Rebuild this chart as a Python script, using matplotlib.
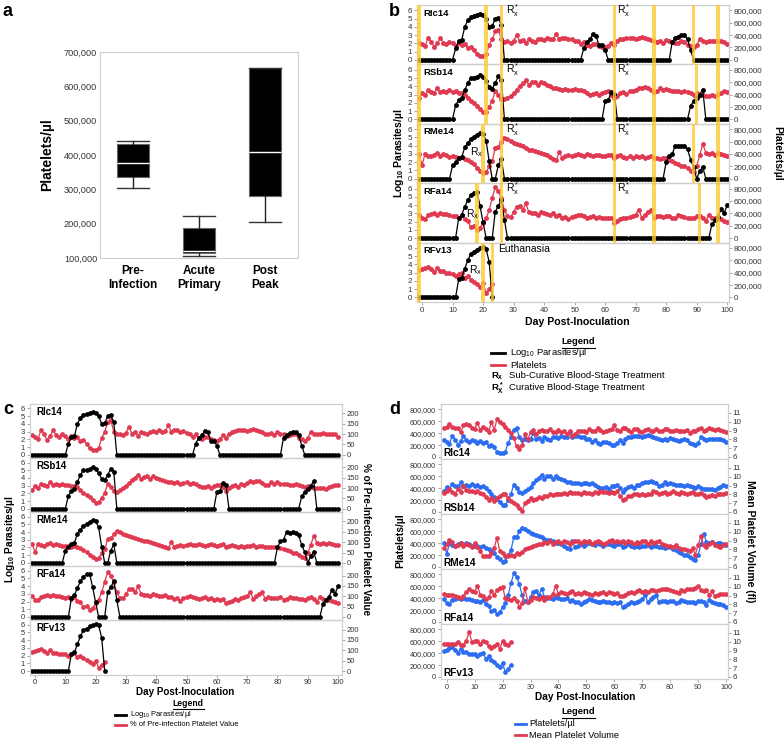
import matplotlib
matplotlib.use('Agg')
import matplotlib.pyplot as plt
from matplotlib.ticker import FuncFormatter
from matplotlib.lines import Line2D

plt.rcParams['font.family'] = ['Liberation Sans', 'DejaVu Sans']
plt.rcParams['mathtext.fontset'] = 'custom'
plt.rcParams['mathtext.rm'] = 'Liberation Sans'
plt.rcParams['mathtext.it'] = 'Liberation Sans:italic'
plt.rcParams['mathtext.bf'] = 'Liberation Sans:bold'

# ---------------- data ----------------
# panel a (box plot of platelets/µl)
box_labels = ['Pre-\nInfection', 'Acute\nPrimary', 'Post\nPeak']
box_whislo = [305000, 107000, 205000]
box_q1 = [335000, 114000, 282000]
box_med = [378000, 120000, 410000]
box_q3 = [432000, 187000, 652000]
box_whishi = [440000, 222000, 652000]

subjects = ['RIc14', 'RSb14', 'RMe14', 'RFa14', 'RFv13']
days_full = list(range(-1, 101))
days_rfv13 = list(range(-1, 24))

# log10 parasites/µl per day
para_RIc14 = ([0] * 12 + [1.4, 2.3, 2.4, 4.0, 4.8, 5.2, 5.3, 5.4, 5.5, 5.4, 5.0, 4.0, 4.1, 5.0, 5.1, 4.2]
              + [0] * 26 + [1.4, 2.2, 2.5, 3.1, 2.9, 1.8, 1.8, 1.2] + [0] * 21
              + [2.2, 2.6, 2.8, 3.0, 3.0, 2.5, 1.2] + [0] * 12)
para_RSb14 = ([0] * 12 + [1.7, 2.3, 2.6, 3.5, 4.4, 5.0, 5.0, 5.1, 5.4, 5.1, 4.6, 3.9, 3.7, 4.4, 5.2, 4.8]
              + [0] * 33 + [2.2, 2.3, 3.3, 3.1] + [0] * 24 + [1.6, 2.2, 2.6, 3.0, 3.6] + [0] * 8)
para_RMe14 = ([0] * 11 + [1.6, 2.0, 2.5, 2.6, 3.8, 4.3, 4.8, 5.1, 5.3, 5.5, 5.4, 4.6, 2.1]
              + [0, 0, 1.6, 2.4] + [0] * 53 + [2.0, 2.8, 3.0, 4.0, 3.9, 4.0, 3.9, 3.6, 2.3, 1.4]
              + [0, 0.9, 1.4] + [0] * 8)
para_RFa14 = ([0] * 13 + [2.4, 2.8, 3.8, 4.6, 5.2, 5.5, 5.6, 3.9, 1.9] + [0] * 3
              + [3.2, 3.9, 4.6, 2.2] + [0] * 67 + [1.7, 2.2, 2.6, 3.5, 3.0, 4.0])
para_RFv13 = [0] * 13 + [2.2, 2.4, 3.5, 4.5, 5.3, 5.5, 5.8, 6.0, 6.1, 5.9, 4.3, 0]

# platelets (thousands /µl) per day
plt_k_RIc14 = [280, 260, 220, 360, 290, 210, 270, 350, 280, 250, 290, 270,
               230, 270, 240, 250, 190, 210, 160, 90, 70, 70, 90,
               240, 330, 460, 490, 330, 290, 300, 280, 310,
               400, 300, 320, 270, 330, 310, 290, 330, 340, 320,
               350, 330, 340, 420, 330, 360, 350, 330, 340, 310,
               300, 260, 290, 240, 220, 260, 250, 230, 210, 200,
               230, 280, 240, 300, 330, 340, 360, 350, 360, 340,
               350, 370, 360, 340, 320, 300, 290, 310, 280, 320,
               300, 290, 270, 280, 300, 290, 240, 220, 200, 240,
               330, 300, 290, 300, 310, 300, 300, 300, 290, 250]
plt_k_RSb14 = [350, 420, 390, 470, 440, 430, 500, 440, 460, 440, 470, 440,
               450, 420, 430, 400, 350, 300, 260, 220, 160, 110, 120,
               200, 300, 460, 400, 330, 320, 350, 380, 420,
               480, 540, 580, 630, 560, 600, 610, 560, 610, 580,
               560, 540, 510, 500, 490, 480, 490, 470, 480, 490,
               470, 480, 460, 420, 400, 410, 420, 390, 430, 440,
               450, 400, 340, 380, 420, 440, 410, 460, 450, 480,
               510, 500, 520, 510, 480, 440, 450, 500, 470, 490,
               470, 460, 460, 450, 440, 460, 440, 420, 400, 430,
               400, 390, 380, 380, 390, 370, 410, 420, 450, 440]
plt_k_RMe14 = [400, 220, 400, 370, 360, 390, 410, 370, 400, 380, 350, 360,
               350, 330, 350, 320, 300, 270, 230, 170, 130, 90, 100,
               200, 280, 500, 510, 600, 660, 640, 610, 580,
               560, 540, 520, 500, 470, 460, 450, 430, 410, 400,
               380, 350, 320, 300, 430, 330, 360, 380, 360, 380,
               400, 380, 370, 400, 380, 360, 380, 390, 370, 360,
               380, 390, 340, 360, 380, 350, 330, 360, 340, 360,
               350, 370, 340, 350, 360, 330, 340, 320, 340, 330,
               300, 280, 260, 240, 200, 210, 170, 130, 110, 200,
               380, 560, 420, 400, 420, 390, 410, 400, 380, 370]
plt_k_RFa14 = [380, 320, 310, 370, 390, 400, 380, 410, 390, 390, 370, 350,
               360, 330, 370, 300, 270, 180, 200, 130, 160, 250, 320,
               450, 650, 820, 760, 640, 450, 350, 340, 420,
               510, 520, 450, 560, 420, 410, 400, 380, 420, 400,
               390, 380, 400, 360, 370, 330, 340, 300, 340, 360,
               380, 370, 350, 330, 340, 360, 330, 340, 320, 330,
               320, 330, 250, 270, 300, 330, 320, 340, 360, 380,
               460, 330, 380, 420, 450, 330, 360, 350, 340, 350,
               360, 320, 330, 370, 350, 340, 330, 330, 320, 350,
               360, 330, 280, 370, 330, 320, 310, 300, 280, 260]
plt_k_RFv13 = [440, 460, 480, 500, 460, 410, 470, 420, 420, 390, 390, 380,
               350, 380, 400, 310, 350, 290, 250, 210, 170, 230, 80, 130, 210]

# pre-infection platelet reference values (per µl) used for panel c
baseline_RIc14 = 295000
baseline_RSb14 = 385000
baseline_RMe14 = 430000
baseline_RFa14 = 380000
baseline_RFv13 = 470000

# mean platelet volume (fl)
mpv_RIc14 = [9.3, 9.4, 9.7, 9.4, 9.3, 9.3, 8.8, 9.6, 9.7, 9.6, 9.3, 9.2,
             9.9, 9.1, 9.4, 9.2, 8.8, 10.0, 9.1, 10.3, 10.0, 9.7, 9.4,
             9.1, 8.7, 8.2, 7.2, 6.9, 7.4, 8.6, 8.0, 8.8,
             9.1, 8.6, 9.0, 9.1, 8.9, 9.0, 9.2, 8.8, 8.8, 9.1,
             8.8, 9.0, 8.6, 8.9, 8.4, 8.6, 8.9, 9.0, 9.0, 8.8,
             9.2, 8.9, 9.0, 9.3, 9.1, 8.8, 8.9, 9.1, 9.2, 9.6,
             9.1, 9.0, 9.3, 9.3, 9.1, 8.8, 9.2, 9.2, 9.0, 8.8,
             9.1, 9.2, 8.9, 9.0, 9.2, 9.0, 8.9, 9.2, 9.2, 9.0,
             9.0, 9.1, 8.9, 8.9, 9.0, 9.1, 8.7, 9.0, 8.9, 9.2,
             9.3, 8.9, 9.1, 9.3, 9.2, 9.1, 9.2, 9.1, 9.0, 8.8]
mpv_RSb14 = [8.2, 8.4, 8.6, 8.3, 8.1, 8.6, 8.3, 9.0, 8.5, 8.4, 8.4, 8.3,
             8.4, 8.2, 8.0, 7.7, 7.4, 7.6, 7.2, 7.6, 7.8, 8.0, 8.0,
             7.6, 7.2, 7.0, 6.8, 6.5, 6.1, 7.0, 7.3, 7.6,
             7.4, 7.5, 7.7, 7.6, 7.8, 7.8, 8.0, 7.9, 8.0, 8.1,
             8.1, 8.2, 8.1, 8.3, 8.2, 8.2, 8.2, 8.1, 8.3, 8.2,
             8.2, 8.1, 8.3, 8.2, 8.4, 8.3, 8.3, 8.2, 8.3, 8.2,
             8.4, 7.8, 7.4, 7.5, 7.8, 7.8, 8.0, 8.1, 7.9, 8.0,
             7.9, 8.0, 8.0, 8.4, 8.3, 8.1, 8.2, 8.3, 8.1, 8.2,
             8.4, 8.2, 8.1, 8.3, 8.2, 8.1, 8.2, 8.3, 8.0, 8.1,
             8.2, 7.9, 7.7, 7.8, 7.9, 7.8, 8.0, 8.1, 8.1, 8.2]
mpv_RMe14 = [8.2, 8.6, 9.1, 8.8, 8.4, 8.5, 8.7, 8.4, 8.6, 8.5, 8.3, 8.7,
             8.3, 7.8, 7.3, 7.2, 7.3, 7.6, 8.2, 9.3, 7.8, 7.6, 7.3,
             7.2, 7.4, 7.3, 7.6, 7.5, 7.7, 8.0, 8.2, 8.3,
             8.4, 8.5, 8.6, 8.6, 8.8, 8.7, 8.9, 8.6, 8.8, 8.9,
             8.7, 8.9, 8.8, 8.6, 8.8, 8.9, 9.0, 8.7, 8.9, 8.8,
             8.9, 8.6, 8.8, 8.9, 8.8, 8.6, 8.7, 8.9, 9.1, 8.8,
             8.9, 8.8, 9.0, 8.7, 8.9, 8.8, 8.6, 8.8, 8.7, 8.9,
             9.0, 8.6, 8.9, 8.7, 8.8, 8.9, 8.6, 8.5, 8.4, 8.4,
             8.3, 8.5, 8.2, 8.1, 8.0, 7.9, 7.8, 8.2, 7.4, 8.5,
             9.5, 8.5, 8.3, 8.6, 8.8, 8.5, 8.4, 8.3, 8.5, 8.6]
mpv_RFa14 = [9.2, 9.1, 9.1, 9.1, 9.0, 8.8, 8.7, 9.0, 9.4, 9.7, 9.5, 9.4,
             10.1, 9.1, 8.9, 8.6, 8.8, 9.5, 9.1, 9.6, 9.9, 10.0, 8.7,
             8.6, 8.5, 8.7, 8.4, 7.7, 8.2, 9.9, 8.3, 8.5,
             8.8, 8.7, 8.6, 8.8, 8.5, 8.8, 8.8, 9.2, 10.1, 9.2,
             9.4, 9.3, 9.2, 9.4, 9.5, 9.2, 9.3, 9.2, 9.4, 9.3,
             9.2, 9.1, 9.3, 9.2, 9.3, 9.4, 9.2, 9.4, 9.3, 9.2,
             9.3, 9.0, 9.0, 9.1, 9.3, 9.4, 9.3, 9.5, 9.6, 9.4,
             9.5, 9.4, 9.6, 9.6, 9.5, 9.6, 9.7, 9.8, 9.8, 9.6,
             9.5, 9.4, 9.3, 9.6, 9.5, 9.7, 9.8, 9.7, 9.9, 10.1,
             9.6, 9.5, 9.6, 9.1, 9.5, 8.9, 9.1, 9.2, 9.2, 9.2]
mpv_RFv13 = [9.8, 9.8, 9.7, 9.7, 9.7, 10.0, 9.6, 9.6, 10.1, 11.1, 10.0, 10.1,
             10.1, 9.7, 10.1, 10.0, 9.5, 9.3, 9.5, 9.7, 9.2, 10.1, 9.7, 9.6, 10.0]

# treatment days (yellow bands) per subject in panel b
treat_RIc14 = [-1, 21, 26, 63, 76, 89, 97]
treat_RSb14 = [-1, 21, 26, 63, 76, 90, 97]
treat_RMe14 = [-1, 20, 26, 63, 76, 89, 97]
treat_RFa14 = [-1, 18, 26, 63, 76, 91, 97]
treat_RFv13 = [-1, 20, 23]

# --------------- containers ---------------
DAYS = {'RIc14': days_full, 'RSb14': days_full, 'RMe14': days_full,
        'RFa14': days_full, 'RFv13': days_rfv13}
PARA = {'RIc14': para_RIc14, 'RSb14': para_RSb14, 'RMe14': para_RMe14,
        'RFa14': para_RFa14, 'RFv13': para_RFv13}
PLT = {'RIc14': plt_k_RIc14, 'RSb14': plt_k_RSb14, 'RMe14': plt_k_RMe14,
       'RFa14': plt_k_RFa14, 'RFv13': plt_k_RFv13}
BASE = {'RIc14': baseline_RIc14, 'RSb14': baseline_RSb14, 'RMe14': baseline_RMe14,
        'RFa14': baseline_RFa14, 'RFv13': baseline_RFv13}
MPV = {'RIc14': mpv_RIc14, 'RSb14': mpv_RSb14, 'RMe14': mpv_RMe14,
       'RFa14': mpv_RFa14, 'RFv13': mpv_RFv13}
TREAT = {'RIc14': treat_RIc14, 'RSb14': treat_RSb14, 'RMe14': treat_RMe14,
         'RFa14': treat_RFa14, 'RFv13': treat_RFv13}

RED = '#e03a52'
BLUE = '#2b6cf0'
YEL = '#fdc930'
SPINE = '#cfcfcf'
TXT = '#333333'

W, H = 784, 741
fig = plt.figure(figsize=(W / 100, H / 100), dpi=100)


def px_axes(x0, y0, x1, y1):
    return fig.add_axes([x0 / W, 1 - y1 / H, (x1 - x0) / W, (y1 - y0) / H])


def fx(x):
    return x / W


def fy(y):
    return 1 - y / H


comma = FuncFormatter(lambda v, p: f'{int(round(v)):,}')


def style(ax, size):
    for s in ax.spines.values():
        s.set_color(SPINE)
        s.set_linewidth(0.8)
    ax.tick_params(labelsize=size, colors='#999999', labelcolor=TXT, length=2, width=0.6, pad=1.5)


# ---------------- panel a ----------------
axa = px_axes(100, 52, 298, 258)
stats = []
for i, lab in enumerate(box_labels):
    stats.append(dict(whislo=box_whislo[i], q1=box_q1[i], med=box_med[i],
                      q3=box_q3[i], whishi=box_whishi[i], label=lab))
axa.bxp(stats, positions=[1, 2, 3], widths=0.48, capwidths=0.48, patch_artist=True,
        showfliers=False,
        boxprops=dict(facecolor='black', edgecolor='#666666', lw=0.8),
        medianprops=dict(color='white', lw=1.0),
        whiskerprops=dict(color='#222222', lw=1.0),
        capprops=dict(color='#333333', lw=1.0))
axa.set_xlim(0.5, 3.5)
axa.set_ylim(100000, 700000)
axa.set_yticks([100000, 200000, 300000, 400000, 500000, 600000, 700000])
axa.yaxis.set_major_formatter(comma)
for s in axa.spines.values():
    s.set_color(SPINE)
axa.tick_params(axis='y', length=0, labelsize=6.6, labelcolor=TXT, pad=2)
axa.tick_params(axis='x', length=0, labelsize=8.5, pad=5)
for t in axa.get_xticklabels():
    t.set_fontweight('bold')
fig.text(fx(47), fy(155), 'Platelets/µl', rotation=90, fontsize=10, fontweight='bold',
         ha='center', va='center')

# ---------------- panel b ----------------
b_top, b_bot = 5.0, 302.0
b_rowh = (b_bot - b_top) / 5
B_SCALE = 133333.3
for i, s in enumerate(subjects):
    y0 = b_top + i * b_rowh
    ax = px_axes(417, y0, 729, y0 + b_rowh)
    ax2 = ax.twinx()
    ax2.plot(DAYS[s], [v * 1000 for v in PLT[s]], color=RED, lw=0.9, marker='o', ms=2.5,
             mec=RED, mfc=RED)
    ax.plot(DAYS[s], PARA[s], color='black', lw=0.9, marker='o', ms=2.5)
    ax.set_zorder(ax2.get_zorder() + 1)
    ax.patch.set_visible(False)
    for d in TREAT[s]:
        ax.axvspan(d - 0.55, d + 0.55, color=YEL, alpha=0.8, lw=0, zorder=6)
    ax.set_xlim(-1.65, 100.6)
    ax.set_ylim(-0.55, 6.65)
    ax2.set_ylim(-0.55 * B_SCALE, 6.65 * B_SCALE)
    ax.set_yticks(range(7))
    ax2.set_yticks([0, 200000, 400000, 600000, 800000])
    ax2.yaxis.set_major_formatter(comma)
    style(ax, 5.8)
    style(ax2, 5.8)
    ax.set_xticks(range(0, 101, 10))
    if i < 4:
        ax.tick_params(axis='x', length=0, labelbottom=False)
    ax.text(0.02, 0.865, s, transform=ax.transAxes, fontsize=6.8, fontweight='bold',
            ha='left', va='center', zorder=10)
    if i < 4:
        for d in (27.4, 63.8):
            ax.text(d, 6.0, r'$\mathrm{R_x^*}$', fontsize=7.5, ha='left', va='center', zorder=10)
# Rx (sub-curative) labels
fig.text(fx(470), fy(152), r'$\mathrm{R_x}$', fontsize=7.5, ha='left', va='center')
fig.text(fx(466), fy(214), r'$\mathrm{R_x}$', fontsize=7.5, ha='left', va='center')
fig.text(fx(469), fy(270), r'$\mathrm{R_x}$', fontsize=7.5, ha='left', va='center')
fig.text(fx(498), fy(249), 'Euthanasia', fontsize=7.5, ha='left', va='center')

fig.text(fx(577), fy(322), 'Day Post-Inoculation', fontsize=7.6, fontweight='bold',
         ha='center', va='center')
fig.text(fx(399), fy(153), r'Log$_{\mathbf{10}}$ Parasites/µl', rotation=90, fontsize=7.5,
         fontweight='bold', ha='center', va='center')
fig.text(fx(777), fy(153), 'Platelets/µl', rotation=270, fontsize=7.5, fontweight='bold',
         ha='center', va='center')

# legend b
fig.text(fx(578), fy(342), 'Legend', fontsize=6.8, fontweight='bold', ha='center', va='center')
fig.add_artist(Line2D([fx(562), fx(595)], [fy(347.5), fy(347.5)], color='black', lw=0.8))
fig.add_artist(Line2D([fx(491), fx(505)], [fy(353), fy(353)], color='black', lw=2))
fig.text(fx(510), fy(353), r'Log$_{\mathrm{10}}$ Parasites/µl', fontsize=6.8, ha='left', va='center')
fig.add_artist(Line2D([fx(491), fx(505)], [fy(365), fy(365)], color=RED, lw=2))
fig.text(fx(510), fy(365), 'Platelets', fontsize=6.8, ha='left', va='center')
fig.text(fx(491), fy(378), r'$\mathbf{R_x}$', fontsize=6.8, ha='left', va='baseline')
fig.text(fx(509), fy(375), 'Sub-Curative Blood-Stage Treatment', fontsize=6.8, ha='left', va='center')
fig.text(fx(491), fy(391), r'$\mathbf{R_X^*}$', fontsize=6.8, ha='left', va='baseline')
fig.text(fx(509), fy(388), 'Curative Blood-Stage Treatment', fontsize=6.8, ha='left', va='center')

# ---------------- panel c ----------------
c_top, c_bot = 404.2, 674.5
c_rowh = (c_bot - c_top) / 5
C_SCALE = 37.3
for i, s in enumerate(subjects):
    y0 = c_top + i * c_rowh
    ax = px_axes(30, y0, 342, y0 + c_rowh)
    ax2 = ax.twinx()
    pct = [v * 1000 / BASE[s] * 100 for v in PLT[s]]
    ax2.plot(DAYS[s], pct, color=RED, lw=0.9, marker='o', ms=2.4)
    ax.plot(DAYS[s], PARA[s], color='black', lw=0.9, marker='o', ms=2.4)
    ax.set_zorder(ax2.get_zorder() + 1)
    ax.patch.set_visible(False)
    ax.set_xlim(-1.65, 101.3)
    ax.set_ylim(-0.45, 6.55)
    ax2.set_ylim(-0.45 * C_SCALE, 6.55 * C_SCALE)
    ax.set_yticks(range(7))
    ax2.set_yticks([0, 50, 100, 150, 200])
    style(ax, 5.5)
    style(ax2, 5.5)
    ax.set_xticks(range(0, 101, 10))
    if i < 4:
        ax.tick_params(axis='x', length=0, labelbottom=False)
    ax.text(0.02, 0.86, s, transform=ax.transAxes, fontsize=7, fontweight='bold',
            ha='left', va='center', zorder=10)

fig.text(fx(185), fy(692), 'Day Post-Inoculation', fontsize=7.1, fontweight='bold',
         ha='center', va='center')
fig.text(fx(10), fy(539), r'Log$_{\mathbf{10}}$ Parasites/µl', rotation=90, fontsize=7.3,
         fontweight='bold', ha='center', va='center')
fig.text(fx(366), fy(539), '% of Pre-Infection Platelet Value', rotation=270, fontsize=7.2,
         fontweight='bold', ha='center', va='center')
fig.text(fx(188), fy(704), 'Legend', fontsize=6.2, fontweight='bold', ha='center', va='center')
fig.add_artist(Line2D([fx(173), fx(204)], [fy(709), fy(709)], color='black', lw=0.8))
fig.add_artist(Line2D([fx(115), fx(126)], [fy(715), fy(715)], color='black', lw=2))
fig.text(fx(130), fy(715), r'Log$_{\mathrm{10}}$ Parasites/µl', fontsize=5.4, ha='left', va='center')
fig.add_artist(Line2D([fx(115), fx(126)], [fy(725), fy(725)], color=RED, lw=2))
fig.text(fx(130), fy(725), '% of Pre-infection Platelet Value', fontsize=5.4, ha='left', va='center')

# ---------------- panel d ----------------
d_top = 404.0
d_rowh = 55.0
D_LO, D_HI = -33700, 892600
M_PER = 5.0 / (44.0 / 47.5 * 800000)
for i, s in enumerate(subjects):
    y0 = d_top + i * d_rowh
    ax = px_axes(441, y0, 728, y0 + d_rowh)
    ax2 = ax.twinx()
    ax2.plot(DAYS[s], MPV[s], color=RED, lw=0.9, marker='o', ms=2.4)
    ax.plot(DAYS[s], [v * 1000 for v in PLT[s]], color=BLUE, lw=0.9, marker='o', ms=2.4)
    ax.set_xlim(-2.04, 100.7)
    ax.set_ylim(D_LO, D_HI)
    ax2.set_ylim(6 + D_LO * M_PER, 6 + D_HI * M_PER)
    ax.set_yticks([0, 200000, 400000, 600000, 800000])
    ax.yaxis.set_major_formatter(comma)
    ax2.set_yticks(range(6, 12))
    style(ax, 5.2)
    style(ax2, 5.8)
    ax.set_xticks(range(0, 101, 10))
    if i < 4:
        ax.tick_params(axis='x', length=0, labelbottom=False)
    ax2.text(0.01, 0.015, s, transform=ax.transAxes, fontsize=7.3, fontweight='bold',
             ha='left', va='bottom', zorder=10)

fig.text(fx(585), fy(697), 'Day Post-Inoculation', fontsize=7.3, fontweight='bold',
         ha='center', va='center')
fig.text(fx(400), fy(541), 'Platelets/µl', rotation=90, fontsize=7.5,
         fontweight='bold', ha='center', va='center')
fig.text(fx(750), fy(541), 'Mean Platelet Volume (fl)', rotation=270, fontsize=7.5,
         fontweight='bold', ha='center', va='center')
fig.text(fx(578), fy(712), 'Legend', fontsize=6.8, fontweight='bold', ha='center', va='center')
fig.add_artist(Line2D([fx(562), fx(595)], [fy(717.5), fy(717.5)], color='black', lw=0.8))
fig.add_artist(Line2D([fx(515), fx(526)], [fy(724), fy(724)], color=BLUE, lw=2))
fig.text(fx(529), fy(724), 'Platelets/µl', fontsize=6.7, ha='left', va='center')
fig.add_artist(Line2D([fx(515), fx(526)], [fy(735), fy(735)], color=RED, lw=2))
fig.text(fx(529), fy(735), 'Mean Platelet Volume', fontsize=6.7, ha='left', va='center')

# panel letters
fig.text(fx(8), fy(11), 'a', fontsize=13, fontweight='bold', ha='center', va='center')
fig.text(fx(394), fy(12), 'b', fontsize=13, fontweight='bold', ha='center', va='center')
fig.text(fx(8), fy(409), 'c', fontsize=13, fontweight='bold', ha='center', va='center')
fig.text(fx(395), fy(410), 'd', fontsize=13, fontweight='bold', ha='center', va='center')

fig.savefig('out.png', dpi=100)
